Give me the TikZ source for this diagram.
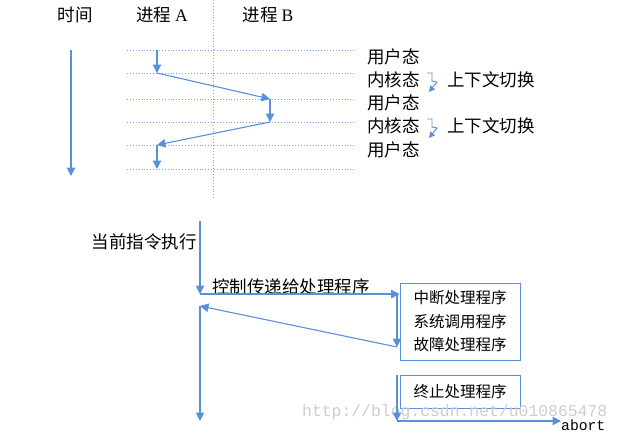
\documentclass[tikz,border=0pt]{standalone}
\usepackage{fontspec}
\setmainfont{Noto Sans CJK SC}
\newfontfamily\latinserif{Liberation Serif}
\newfontfamily\monofont{Liberation Mono}
\usetikzlibrary{arrows.meta}
\definecolor{lineblue}{RGB}{88,144,218}
\definecolor{gridblue}{RGB}{120,165,225}
\definecolor{markgray}{RGB}{205,205,205}

\begin{document}
\begin{tikzpicture}[x=1pt,y=-1pt]
\tikzset{
  flow/.style={-{Triangle[length=8.5pt,width=8.5pt]},lineblue,line width=1.1pt},
  smallflow/.style={-{Triangle[length=6pt,width=6pt]},lineblue,line width=0.9pt},
  gridline/.style={gridblue,dotted,line width=0.9pt},
  headlabel/.style={inner sep=0pt,font=\fontsize{17.5}{17.5}\selectfont},
  statelabel/.style={anchor=west,inner sep=0pt,font=\fontsize{17.5}{17.5}\selectfont},
  handlerbox/.style={draw=lineblue,line width=0.9pt,minimum width=120pt,align=left,inner sep=0pt,font=\fontsize{15.5}{23.5}\selectfont}
}
\useasboundingbox (0,0) rectangle (619,434);

\node[headlabel] (time) at (75,15) {时间};
\node[headlabel] (procA) at (162,15) {进程 {\latinserif A}};
\node[headlabel] (procB) at (268,15) {进程 {\latinserif B}};
\draw[gridline] (213,0) -- (213,198);
\foreach \y in {50,73,99,122,145,169}
  \draw[gridline] (127,\y) -- (356,\y);

\coordinate (t0) at (71,50);
\coordinate (t1) at (71,176);
\coordinate (a0) at (157,50);
\coordinate (a1) at (157,73);
\coordinate (b1) at (270,99);
\coordinate (b2) at (270,122);
\coordinate (a2) at (157,145);
\coordinate (a3) at (157,169);
\draw[flow] (t0) -- (t1);
\draw[flow] (a0) -- (a1);
\draw[flow] (a1) -- (b1);
\draw[flow] (b1) -- (b2);
\draw[flow] (b2) -- (a2);
\draw[flow] (a2) -- (a3);

\node[statelabel] (s1) at (367,57) {用户态};
\node[statelabel] (s2) at (367,80) {内核态};
\node[statelabel] (s3) at (367,103) {用户态};
\node[statelabel] (s4) at (367,126) {内核态};
\node[statelabel] (s5) at (367,150) {用户态};
\node[statelabel] (sw1) at (447,80) {上下文切换};
\node[statelabel] (sw2) at (447,126) {上下文切换};
\draw[smallflow] (427,73) -- (432,73) -- (432,81) -- (437,82) -- (429,92);
\draw[smallflow] (427,119) -- (432,119) -- (432,127) -- (437,128) -- (429,138);

\node[headlabel,anchor=east] (exec) at (197,242) {当前指令执行};
\node[statelabel] (pass) at (212,287) {控制传递给处理程序};
\node[handlerbox,minimum height=77pt] (handlers) at (460,321.5) {中断处理程序\\系统调用程序\\故障处理程序};
\node[handlerbox,minimum height=33pt] (abortbox) at (460,391.5) {终止处理程序};
\node[anchor=west,inner sep=0pt,text=markgray,font=\monofont\fontsize{16.4}{16.4}\selectfont] (mark) at (302,412) {http://blog.csdn.net/u010865478};
\node[anchor=west,inner sep=0pt,font=\monofont\fontsize{14.7}{14.7}\selectfont] (abort) at (561,425) {abort};

\coordinate (c0) at (200,221);
\coordinate (c1) at (200,294);
\coordinate (h1) at (handlers.west |- c1);
\coordinate (v0) at (397,294);
\coordinate (v1) at (397,347);
\coordinate (r0) at (200,306);
\coordinate (r1) at (200,421);
\coordinate (w0) at (397,375);
\coordinate (w1) at (397,421);
\draw[flow] (c0) -- (c1);
\draw[flow] (c1) -- (h1);
\draw[flow] (v0) -- (v1);
\draw[flow] (v1) -- (r0);
\draw[flow] (r0) -- (r1);
\draw[flow] (w0) -- (w1);
\draw[flow] (w1) -- (abort.west |- w1);
\end{tikzpicture}
\end{document}
